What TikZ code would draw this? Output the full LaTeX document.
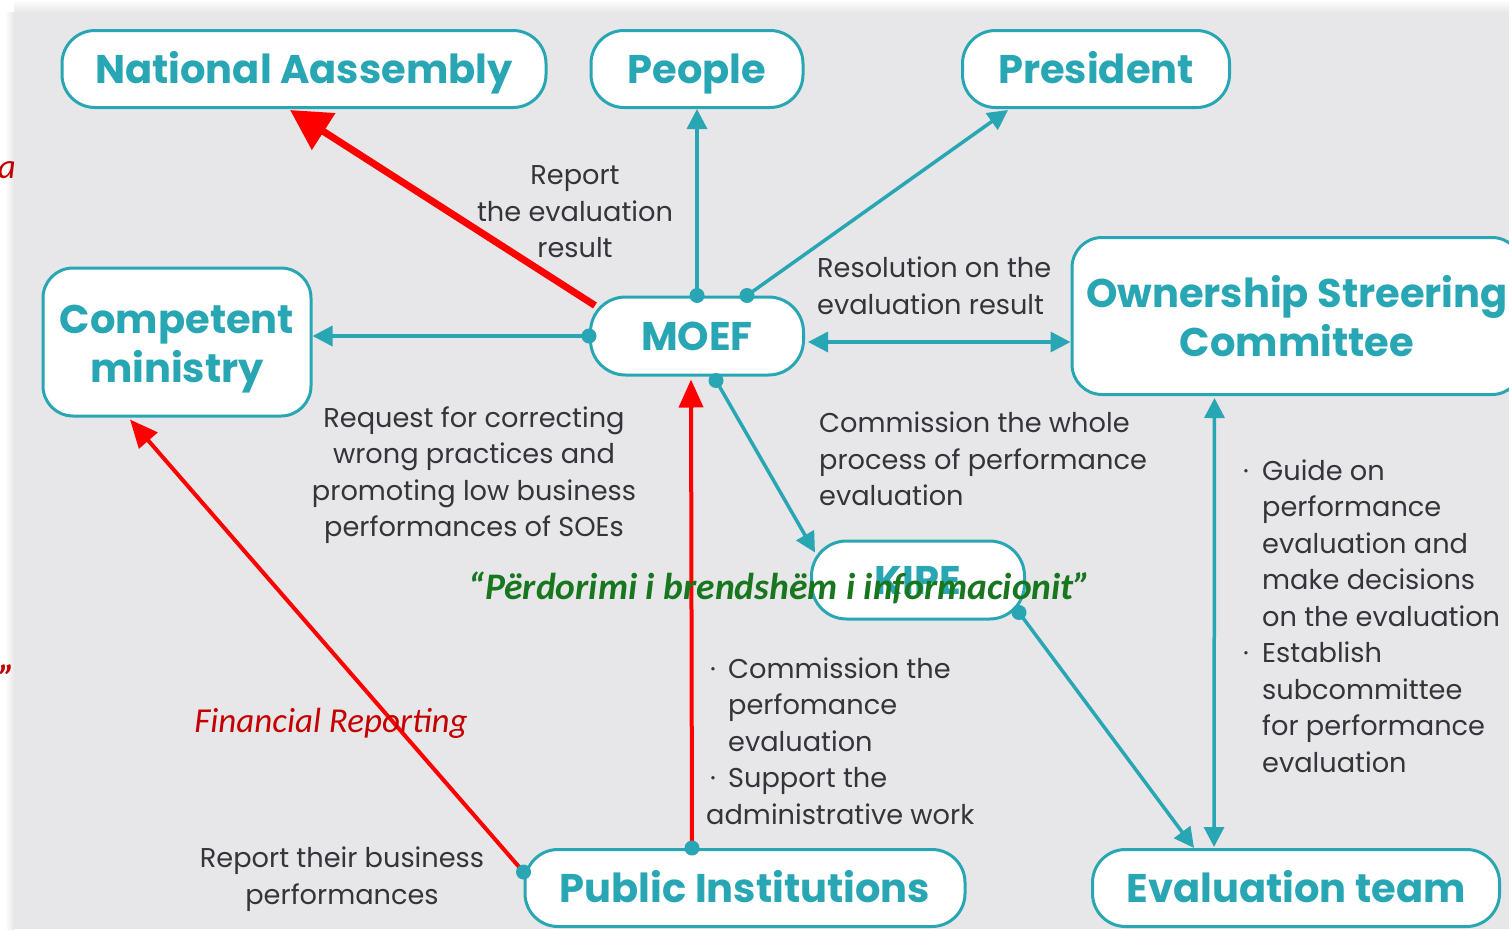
\documentclass[tikz,border=0pt]{standalone}
\usepackage{fontspec}
\setmainfont{Poppins}
\newfontfamily\notefont{Carlito}
\usepackage{tikz}
\usetikzlibrary{positioning}
\usetikzlibrary{arrows.meta,calc}
\definecolor{oecteal}{RGB}{40,166,179}
\definecolor{bggray}{RGB}{231,231,233}
\definecolor{txtgray}{RGB}{52,52,58}
\definecolor{notered}{RGB}{196,0,0}
\definecolor{notegreen}{RGB}{24,118,30}
\tikzstyle{box}=[draw=oecteal,fill=white,line width=3pt,inner sep=0pt,text=oecteal,font=\fontsize{40}{49}\selectfont\bfseries,align=center]
\tikzstyle{link}=[draw=oecteal,line width=3.5pt,-{Triangle[length=20pt,width=20pt]}]
\tikzstyle{twoway}=[draw=oecteal,line width=3.5pt,{Triangle[length=20pt,width=20pt]}-{Triangle[length=20pt,width=20pt]}]
\tikzstyle{redlink}=[draw=red,line width=4pt,-{Triangle[length=28pt,width=24pt]}]
\tikzstyle{dot}=[circle,fill=oecteal,minimum size=15pt,inner sep=0pt]
\tikzstyle{note}=[text=txtgray,font=\fontsize{27.2}{36.5}\selectfont,inner sep=0pt]
\tikzstyle{remark}=[inner sep=0pt,font=\notefont\itshape\fontsize{35}{40}\selectfont]

\begin{document}
\begin{tikzpicture}[x=1pt,y=-1pt]
    % page and grey background
    \useasboundingbox (0,0) rectangle (1509,929);
    \clip (0,0) rectangle (1509,929);
    \fill[white] (0,0) rectangle (1509,929);
    \fill[bggray] (14,12) rectangle (1509,929);
    \shade[left color=white,right color=bggray] (5,12) rectangle (14,929);
    \shade[top color=white,bottom color=bggray] (14,0) rectangle (1509,12);

    % boxes
    \foreach \pos/\name/\w/\h/\r/\th/\td/\label in {{(304,69)/na/484/77/33/30/1/National Aassembly}, {(697,69)/people/212/77/33/30/1/People}, {(1096,69)/pres/267/77/33/30/1/President}, {(177,342)/cm/268/148/30/80/0/Competent\\ministry}, {(697,336)/moef/213/78/35/30/1/MOEF}, {(1297,316)/osc/450/157/30/80/0/Ownership Streering\\Committee}, {(918,580)/kipe/213/78/35/30/1/KIPE}, {(745,888)/pubinst/440/77/33/30/1/Public Institutions}, {(1296,888)/evalteam/407/77/33/30/1/Evaluation team}}
        \node[box,rounded corners=\r pt,minimum width=\w pt,minimum height=\h pt,text height=\th pt,text depth=\td pt] (\name) at \pos {\label};

    % start points of the connectors
    \coordinate (mtop) at (moef.north);
    \coordinate (mright) at ($(moef.north)+(50,0)$);
    \coordinate (mleft) at (moef.west);
    \coordinate (mcorner) at ($(moef.north west)+(6,10)$);
    \coordinate (mbottom) at ($(moef.south)+(19,4)$);
    \coordinate (kout) at ($(kipe.south east)+(-7,-8)$);
    \coordinate (ptop) at ($(pubinst.north)+(-53,0)$);
    \coordinate (pleft) at ($(pubinst.west)+(0,-16)$);

    % teal connectors
    \draw[link] (mtop) -- (people.south);
    \draw[link] (mright) -- ($(pres.south west)+(47,1)$);
    \draw[link] (mleft) -- (mleft -| cm.east);
    \draw[link] (mbottom) -- ($(kipe.north west)+(5,13)$);
    \draw[link] (kout) -- ($(evalteam.north west)+(103,0)$);
    \draw[twoway] ($(moef.east)+(3,6)$) -- ($(osc.west)+(0,26)$);
    \draw[twoway] ($(osc.south west)+(144,2)$) -- ($(evalteam.north west)+(123,-1)$);

    % red overlays
    \draw[redlink,line width=7pt,-{Triangle[length=40pt,width=42pt]}] (mcorner) -- ($(na.south)+(-14,1)$);
    \draw[redlink] (ptop) -- ($(moef.south)+(-6,3)$);
    \draw[redlink] (pleft) -- ($(cm.south)+(-47,2)$);

    \foreach \name in {mtop, mright, mleft, mbottom, kout, ptop, pleft}
        \node[dot] at (\name) {};

    % labels
    \node[note,align=center] (report) at (575,212) {Report\\the evaluation\\result};
    \node[note,align=left,anchor=west] (resol) at (817,286) {Resolution on the\\evaluation result};
    \node[note,align=center] (request) at (474,475) {Request for correcting\\wrong practices and\\promoting low business\\performances of SOEs};
    \node[note,align=left,anchor=west] (commission) at (819,459) {Commission the whole\\process of performance\\evaluation};
    \node[note,align=left,anchor=west] (guide) at (1243,616) {\makebox[19pt][l]{·}Guide on\\\hspace*{19pt}performance\\\hspace*{19pt}evaluation and\\\hspace*{19pt}make decisions\\\hspace*{19pt}on the evaluation\\\makebox[19pt][l]{·}Establish\\\hspace*{19pt}subcommittee\\\hspace*{19pt}for performance\\\hspace*{19pt}evaluation};
    \node[note,align=left,anchor=west] (support) at (706,741) {\makebox[22pt][l]{\hspace{4pt}·}Commission the\\\hspace*{22pt}perfomance\\\hspace*{22pt}evaluation\\\makebox[22pt][l]{\hspace{4pt}·}Support the\\administrative work};
    \node[note,align=center] (business) at (342,879) {Report their business\\performances};

    % red and green remarks
    \node[remark,text=notered] (finrep) at (331,723) {Financial Reporting};
    \node[remark,text=notered,anchor=east] (cuta) at (16,170) {a};
    \node[remark,text=notered,anchor=east,font=\notefont\bfseries\itshape\fontsize{36}{40}\selectfont] (cutq) at (15,678) {”};
    \node[remark,text=notegreen,font=\notefont\bfseries\itshape\fontsize{37.5}{40}\selectfont] (internal) at (780,588) {“Përdorimi i brendshëm i informacionit”};
\end{tikzpicture}
\end{document}
